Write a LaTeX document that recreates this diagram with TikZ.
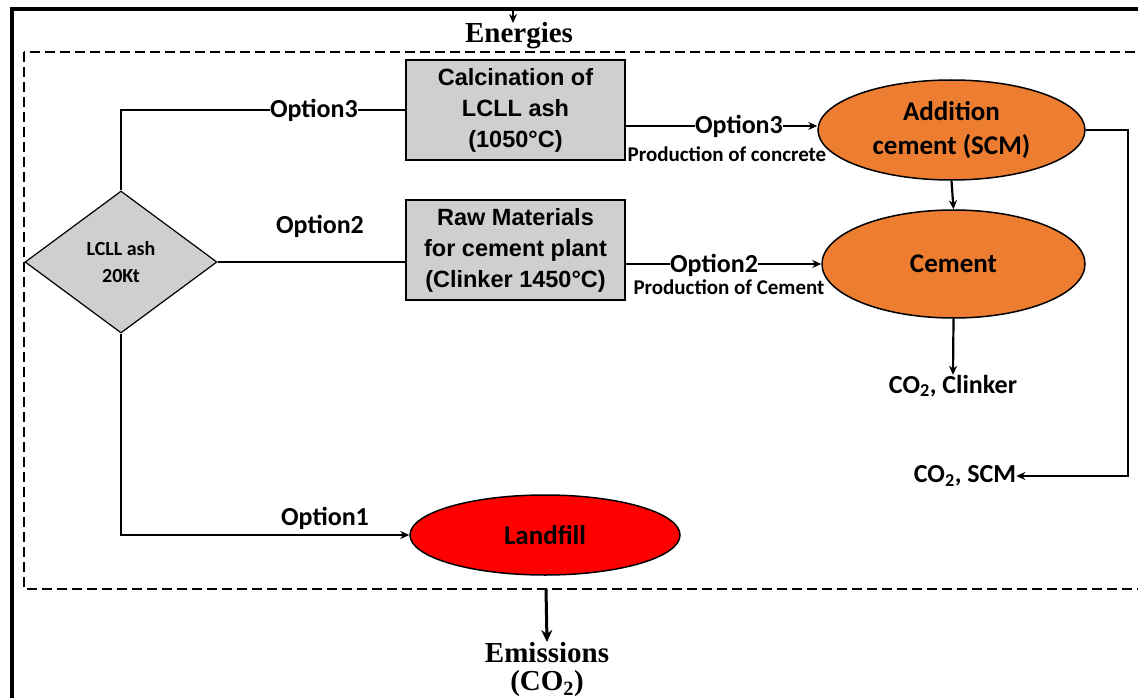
\documentclass[tikz,border=0pt]{standalone}
\usepackage{fontspec}
\setmainfont{Liberation Serif}
\newfontfamily\arialf{Liberation Sans}
\newfontfamily\calib{Carlito}
\usetikzlibrary{shapes.geometric,arrows.meta,calc}
\definecolor{boxgray}{HTML}{D0CECE}
\definecolor{orng}{HTML}{ED7D31}
\definecolor{lred}{HTML}{FF0000}
\tikzset{
  conn/.style={line width=2.2pt},
  arr/.style={conn,-{Stealth[length=9pt,width=8pt]}},
  procbox/.style={draw,line width=2.6pt,fill=boxgray,minimum width=219pt,minimum height=100pt,inner sep=0,align=center,font=\arialf\bfseries\fontsize{23.5}{31}\selectfont},
  ell/.style={ellipse,draw,line width=1.5pt,inner sep=0,align=center,font=\calib\bfseries\fontsize{27}{34}\selectfont},
  optlab/.style={font=\calib\bfseries\fontsize{26}{28}\selectfont,inner sep=0.5pt},
  smalllab/.style={font=\calib\bfseries\fontsize{21}{24}\selectfont,inner sep=0},
  outlab/.style={font=\calib\bfseries\fontsize{26}{28}\selectfont,inner sep=0},
  serlab/.style={font=\bfseries\fontsize{29}{28}\selectfont,inner sep=0,align=center}
}
\begin{document}
\begin{tikzpicture}[x=1pt,y=-1pt]
\useasboundingbox (0,0) rectangle (1138,698);
\clip (0,0) rectangle (1138,698);
% outer frame and dashed system boundary
\draw[line width=4pt] (12,720) -- (12,9) -- (1160,9);
\draw[line width=2.2pt,dash pattern=on 10pt off 5pt] (24,52) rectangle (1160,589);
% nodes
\node[serlab] (energ) at (519,36) {Energies};
\coordinate (etop) at (513,9);
\node[procbox] (calc) at (515.5,110) {Calcination of\\LCLL ash\\(1050°C)};
\node[procbox] (raw) at (515.5,250) {Raw Materials\\for cement plant\\(Clinker 1450°C)};
\node[diamond,draw,line width=1.2pt,fill=boxgray,minimum width=192pt,minimum height=142pt,inner sep=0,align=center,font=\calib\bfseries\fontsize{20}{27}\selectfont] (dia) at (121,262) {LCLL ash\\20Kt};
\node[ell,fill=orng,minimum width=267pt,minimum height=100pt] (add) at (951.5,130) {Addition\\cement (SCM)};
\node[ell,fill=orng,minimum width=263pt,minimum height=108pt] (cem) at (953.5,264) {Cement};
\node[ell,fill=lred,minimum width=270pt,minimum height=80pt] (land) at (545,535) {Landfill};
\node[outlab] (clk) at (953,386) {CO\textsubscript{2}, Clinker};
\node[outlab] (scm) at (965,476) {CO\textsubscript{2}, SCM};
\node[serlab,anchor=north] (emis) at (547,642) {Emissions\\(CO\textsubscript{2})};
% connectors
\draw[arr] (etop) -- (513,23);
\draw[conn] (dia.north) |- (calc.west) node[optlab,fill=white,pos=0.84] (o3a) {Option3};
\draw[conn] (dia.east) -- (raw.west |- dia.east);
\node[optlab] (o2a) at (320,226) {Option2};
\draw[arr] (dia.south) |- (land.west);
\node[optlab] (o1) at (325,518) {Option1};
\coordinate (c3) at ($(calc.east)+(0,16)$);
\draw[arr] (c3) -- (add.west |- c3) node[optlab,fill=white,pos=0.59] (o3b) {Option3};
\node[smalllab] (pconc) at (727,154) {Production of concrete};
\draw[arr] (raw.east |- cem.west) -- (cem.west) node[optlab,fill=white,pos=0.45,yshift=-1pt] (o2b) {Option2};
\node[smalllab] (pcem) at (729,287) {Production of Cement};
\draw[arr] (add.south) -- (cem.north);
\draw[arr] (cem.south) -- (clk.north);
\draw[arr] (add.east) -- (1128,130) |- (scm.east);
\draw[line width=3pt,-{Stealth[length=12pt,width=11pt]}] (546,589) -- (emis.north);
\end{tikzpicture}
\end{document}
